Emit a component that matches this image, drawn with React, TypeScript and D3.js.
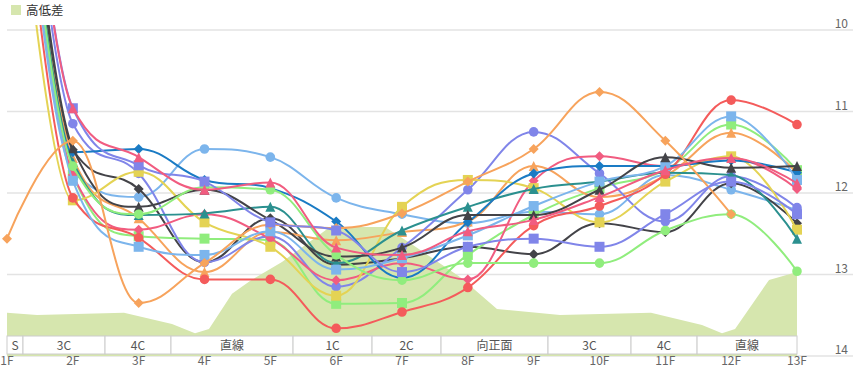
import React from "react";
import * as d3 from "d3";

// ---------- data ----------
const furlongLabels = ["1F", "2F", "3F", "4F", "5F", "6F", "7F", "8F", "9F", "10F", "11F", "12F", "13F"];
const yTicks = [10, 11, 12, 13, 14];

const sectionLabels = ["S", "3C", "4C", "直線", "1C", "2C", "向正面", "3C", "4C", "直線"];
const sectionBounds = [1, 1.243, 2.489, 3.491, 5.345, 6.545, 7.593, 9.218, 10.479, 11.482, 13];

const legendLabel = "高低差";
const elevPos = [1.0, 1.456, 2.777, 3.506, 3.856, 4.068, 4.418, 4.691, 5.177, 5.906, 6.742, 7.122, 7.881, 8.443, 9.4, 10.782, 11.557, 11.861, 12.059, 12.575, 13.0];
const elevHeight = [1.34, 1.27, 1.34, 0.99, 0.71, 0.84, 1.93, 2.33, 2.92, 4.01, 4.01, 3.51, 2.45, 1.46, 1.27, 1.34, 0.96, 0.71, 0.84, 2.36, 2.61];

const palette = ["#7cb5ec", "#434348", "#90ed7d", "#f7a35c", "#8085e9", "#f15c80", "#e4d354", "#2b908f", "#f45b5b", "#1a7bc4"];
const symbols = ["circle", "diamond", "square", "triangle"];

const lapsS0 = [5.8, 11.74, 12.05, 11.46, 11.56, 12.06, 12.26, 12.37, 12.23, 12.26, 11.78, 11.96, 12.21];
const lapsS1 = [5.2, 11.47, 11.95, 12.85, 12.31, 12.88, 12.8, 12.66, 12.75, 12.37, 12.48, 11.88, 12.37];
const lapsS2 = [5.8, 11.78, 12.53, 12.56, 12.58, 13.36, 13.35, 12.76, 12.27, 11.94, 11.72, 11.16, 11.72];
const lapsS3 = [6.0, 11.57, 12.31, 12.97, 12.48, 12.58, 12.48, 12.35, 11.67, 12.05, 11.79, 11.26, 11.75];
const lapsS4 = [5.0, 11.15, 11.76, 12.85, 12.53, 13.15, 12.67, 11.96, 11.25, 11.76, 12.35, 11.79, 12.18];
const lapsS5 = [5.6, 11.78, 12.45, 12.26, 12.56, 13.07, 12.86, 13.06, 11.85, 11.55, 11.67, 11.57, 11.95];
const lapsS6 = [6.5, 12.09, 11.74, 12.36, 12.66, 13.26, 12.17, 11.84, 11.94, 12.36, 11.86, 11.55, 12.45];
const lapsS7 = [5.6, 11.62, 12.27, 12.25, 12.17, 12.86, 12.46, 12.17, 11.95, 11.86, 11.75, 11.78, 12.56];
const lapsS8 = [6.0, 12.06, 12.55, 13.06, 13.06, 13.66, 13.46, 13.16, 12.4, 12.16, 11.77, 10.86, 11.16];
const lapsS9 = [5.2, 11.5, 11.46, 11.84, 11.94, 12.35, 13.04, 12.36, 11.76, 11.67, 11.67, 11.6, 11.75];
const lapsS10 = [5.8, 11.85, 12.66, 12.76, 12.47, 12.94, 12.8, 12.52, 12.16, 11.86, 11.67, 11.06, 11.84];
const lapsS11 = [5.2, 11.45, 12.17, 11.96, 12.33, 12.78, 12.67, 12.27, 12.27, 11.96, 11.56, 11.69, 11.67];
const lapsS12 = [5.6, 11.67, 12.26, 11.93, 11.96, 12.76, 13.07, 12.86, 12.86, 12.86, 12.46, 12.26, 12.96];
const lapsS13 = [12.56, 11.36, 13.35, 12.86, 12.39, 12.43, 12.25, 11.86, 11.46, 10.76, 11.36, 12.26];
const lapsS14 = [5.0, 10.96, 11.66, 11.86, 12.36, 12.46, 12.97, 12.66, 12.56, 12.66, 12.26, 11.86, 12.26];
const lapsS15 = [4.8, 10.96, 11.56, 11.96, 11.87, 12.67, 12.76, 12.47, 12.33, 12.05, 11.72, 11.57, 11.88];

const allLaps = [lapsS0, lapsS1, lapsS2, lapsS3, lapsS4, lapsS5, lapsS6, lapsS7, lapsS8, lapsS9, lapsS10, lapsS11, lapsS12, lapsS13, lapsS14, lapsS15];

// ---------- helpers ----------
type Pt = [number, number];

function splinePath(pts: Pt[]): string {
  const p = d3.path();
  const sm = 1.5;
  const den = sm + 1;
  const n = pts.length;
  const ctrl = pts.map((pt, i) => {
    const [px, py] = pt;
    if (i === 0 || i === n - 1) return { l: [px, py], r: [px, py] };
    const [lx, ly] = pts[i - 1];
    const [nx, ny] = pts[i + 1];
    const lcx = (sm * px + lx) / den;
    let lcy = (sm * py + ly) / den;
    const rcx = (sm * px + nx) / den;
    let rcy = (sm * py + ny) / den;
    let corr = 0;
    if (rcx !== lcx) corr = ((rcy - lcy) * (rcx - px)) / (rcx - lcx) + py - rcy;
    lcy += corr;
    rcy += corr;
    if (lcy > ly && lcy > py) {
      lcy = Math.max(ly, py);
      rcy = 2 * py - lcy;
    } else if (lcy < ly && lcy < py) {
      lcy = Math.min(ly, py);
      rcy = 2 * py - lcy;
    }
    if (rcy > ny && rcy > py) {
      rcy = Math.max(ny, py);
      lcy = 2 * py - rcy;
    } else if (rcy < ny && rcy < py) {
      rcy = Math.min(ny, py);
      lcy = 2 * py - rcy;
    }
    return { l: [lcx, lcy], r: [rcx, rcy] };
  });
  p.moveTo(pts[0][0], pts[0][1]);
  for (let i = 1; i < n; i++) {
    p.bezierCurveTo(ctrl[i - 1].r[0], ctrl[i - 1].r[1], ctrl[i].l[0], ctrl[i].l[1], pts[i][0], pts[i][1]);
  }
  return p.toString();
}

function markerPath(sym: string, cx: number, cy: number, r: number): string {
  const p = d3.path();
  if (sym === "circle") {
    p.arc(cx, cy, r, 0, Math.PI * 2);
  } else if (sym === "square") {
    p.rect(cx - r, cy - r, 2 * r, 2 * r);
  } else if (sym === "diamond") {
    p.moveTo(cx, cy - r);
    p.lineTo(cx + r, cy);
    p.lineTo(cx, cy + r);
    p.lineTo(cx - r, cy);
    p.closePath();
  } else {
    p.moveTo(cx, cy - r);
    p.lineTo(cx + r, cy + r);
    p.lineTo(cx - r, cy + r);
    p.closePath();
  }
  return p.toString();
}

// ---------- component ----------
export default function App() {
  const W = 856;
  const H = 381;
  const x = d3.scaleLinear().domain([1, 13]).range([7, 797]);
  const y = d3.scaleLinear().domain([10, 14]).range([30, 356]);
  const hy = d3.scaleLinear().domain([0, 5]).range([356, 195]);
  const font = '"Noto Sans CJK JP", "Noto Sans", sans-serif';
  const areaColor = "#d6e6ae";

  const areaGen = d3
    .area<number>()
    .x((_, i) => x(elevPos[i]))
    .y0(hy(0))
    .y1((d) => hy(d))
    .curve(d3.curveLinear);

  const bandTop = 336;
  const bandH = 18;

  return (
    <svg width={W} height={H} style={{ position: "absolute", left: 0, top: 0, display: "block", background: "#fff" }}>
      <defs>
        <clipPath id="plotClip">
          <rect x={0} y={25} width={W} height={H - 25} />
        </clipPath>
      </defs>

      {/* grid lines */}
      {yTicks.map((t) => (
        <line key={"g" + t} x1={7} x2={853} y1={y(t)} y2={y(t)} stroke="#e3e3e3" strokeWidth={1.5} />
      ))}

      {/* elevation area */}
      <path d={areaGen(elevHeight) || ""} fill={areaColor} />

      {/* lap lines */}
      <g clipPath="url(#plotClip)">
        {allLaps.map((laps, si) => {
          const color = palette[si % palette.length];
          const sym = symbols[si % symbols.length];
          const pts: Pt[] = laps.map((v, i) => [x(i + 1), y(v)]);
          return (
            <g key={"s" + si}>
              <path d={splinePath(pts)} fill="none" stroke={color} strokeWidth={2} strokeLinejoin="round" strokeLinecap="round" />
              {pts.map((pt, i) => (
                <path key={i} d={markerPath(sym, pt[0], pt[1], sym === "circle" ? 4.8 : 5)} fill={color} />
              ))}
            </g>
          );
        })}
      </g>

      {/* section band */}
      {sectionLabels.map((lab, i) => {
        const x0 = x(sectionBounds[i]);
        const x1 = x(sectionBounds[i + 1]);
        return (
          <g key={"b" + i}>
            <rect x={x0} y={bandTop} width={x1 - x0} height={bandH} fill="#fff" stroke="#cccccc" strokeWidth={1} />
            <text x={(x0 + x1) / 2} y={bandTop + 13.5} textAnchor="middle" fontSize={12} fill="#555" fontFamily={font}>
              {lab}
            </text>
          </g>
        );
      })}

      {/* x labels */}
      {furlongLabels.map((lab, i) => (
        <text key={"x" + i} x={x(i + 1)} y={365} textAnchor="middle" fontSize={12} fill="#666" fontFamily={font}>
          {lab}
        </text>
      ))}

      {/* y labels */}
      {yTicks.map((t) => (
        <text key={"y" + t} x={848} y={y(t) - 2} textAnchor="end" fontSize={12} fill="#666" fontFamily={font}>
          {t}
        </text>
      ))}

      {/* legend */}
      <rect x={11} y={5} width={10} height={10} fill={areaColor} />
      <text x={26} y={15} fontSize={12.5} fill="#333" fontFamily={font}>
        {legendLabel}
      </text>
    </svg>
  );
}
